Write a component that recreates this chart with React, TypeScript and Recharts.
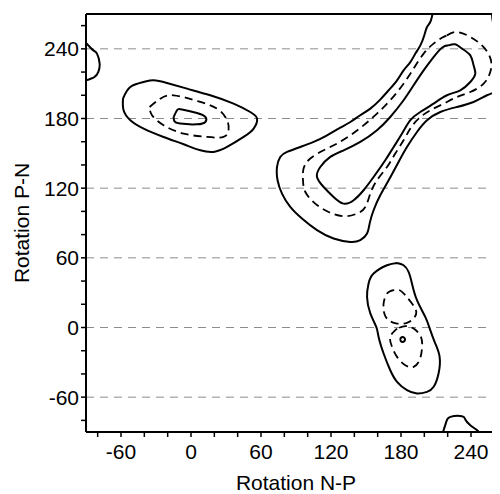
import React from 'react';
import { ScatterChart, Scatter, XAxis, YAxis, ReferenceLine, Curve } from 'recharts';

// Tick values (every 20°, labels every 60°)
const axisTicks = [-80, -60, -40, -20, 0, 20, 40, 60, 80, 100, 120, 140, 160, 180, 200, 220, 240, 260];
const gridValues = [-60, 0, 60, 120, 180, 240];

// Contour traces [rotationNP, rotationPN]
const leftOuter: [number, number][] = [
  [-58.3, 197.1], [-52.0, 207.1], [-40.6, 211.4], [-32.1, 212.9], [-20.6, 210.6], [-3.4, 205.7],
  [16.5, 200.0], [36.5, 192.8], [50.8, 185.6], [56.6, 179.9], [53.7, 171.3], [45.1, 164.1],
  [30.9, 155.5], [19.4, 151.2], [8.0, 152.6], [-6.3, 157.8], [-23.5, 164.1], [-40.6, 171.3],
  [-52.0, 178.5], [-57.8, 187.1], [-58.3, 197.1],
];
const leftMid: [number, number][] = [
  [-35.5, 189.9], [-26.3, 197.1], [-14.9, 200.0], [5.1, 195.1], [22.3, 188.5], [30.9, 178.5],
  [32.2, 169.9], [27.9, 164.1], [13.7, 164.1], [-6.3, 167.0], [-23.5, 174.2], [-33.4, 182.8],
  [-35.5, 189.9],
];
const leftInner: [number, number][] = [
  [-14.9, 181.3], [-12.0, 187.1], [-7.7, 187.7], [5.1, 184.7], [12.3, 181.3], [12.3, 177.0],
  [5.1, 175.0], [-9.2, 175.6], [-14.3, 177.8], [-14.9, 181.3],
];
const cornerTopLeft: [number, number][] = [
  [-90, 245.0], [-88.0, 243.0], [-83.7, 238.7], [-80.6, 235.9], [-78.3, 227.3], [-79.5, 220.0],
  [-82.9, 215.7], [-90, 212.9],
];
const cornerBottomRight: [number, number][] = [
  [216.0, -90], [218.8, -81.3], [222.3, -77.0], [232.3, -76.4], [235.1, -79.2], [239.4, -84.1],
  [245.1, -88.4], [246.5, -90],
];
const blobOuter: [number, number][] = [
  [176.6, 55.6], [168.0, 53.6], [156.5, 46.5], [152.2, 37.9], [150.9, 26.3], [153.7, 12.1],
  [158.8, 0.5], [160.8, -8.1], [165.1, -22.4], [170.8, -36.8], [176.6, -46.8], [185.1, -54.0],
  [193.7, -56.8], [202.3, -55.4], [208.0, -51.1], [212.2, -39.6], [213.1, -25.3], [209.4, -13.8],
  [205.1, -2.3], [200.8, 9.1], [193.7, 23.5], [189.4, 37.9], [186.5, 47.9], [182.2, 53.6], [176.6, 55.6],
];
const blobDashUpper: [number, number][] = [
  [173.7, 32.1], [168.0, 29.3], [165.1, 20.7], [165.7, 12.1], [169.4, 6.3], [176.6, 3.4],
  [185.1, 4.0], [190.8, 7.7], [193.1, 13.4], [189.4, 20.7], [183.7, 27.8], [178.8, 32.1], [173.7, 32.1],
];
const blobDashLower: [number, number][] = [
  [176.6, -0.9], [170.8, -8.1], [172.3, -16.7], [176.6, -25.3], [183.7, -32.5], [190.8, -33.9],
  [195.9, -28.1], [198.0, -18.1], [197.1, -8.1], [190.8, -0.9], [183.7, 1.1], [176.6, -0.9],
];
const blobRing: [number, number][] = [
  [179.3, -10.3], [180.0, -8.8], [181.4, -8.2], [182.8, -8.8], [183.5, -10.3], [182.8, -11.8],
  [181.4, -12.4], [180.0, -11.8], [179.3, -10.3],
];
const bandOuter: [number, number][] = [
  [207.0, 270], [205.1, 263.1], [202.3, 258.8], [200.0, 251.7], [196.6, 243.0], [192.3, 235.9],
  [188.0, 228.6], [182.2, 221.5], [176.6, 212.9], [169.4, 204.3], [162.2, 196.3], [153.7, 188.5],
  [145.1, 182.8], [136.6, 177.0], [126.5, 171.3], [116.6, 165.5], [105.1, 159.8], [93.7, 155.5],
  [82.3, 151.2], [76.5, 146.9], [73.7, 138.2], [74.2, 126.8], [78.0, 115.3], [85.1, 103.8],
  [95.1, 93.8], [108.0, 83.8], [122.2, 76.6], [136.5, 73.7], [145.1, 75.2], [150.9, 80.9],
  [153.1, 89.5], [156.5, 101.0], [162.2, 113.9], [169.4, 126.8], [177.9, 142.6], [185.1, 155.5],
  [193.7, 168.4], [202.3, 178.5], [213.7, 185.6], [228.0, 189.9], [242.2, 194.2], [253.7, 200.0],
  [265.1, 204.3], [270, 206.0],
];
const bandCornerTopRight: [number, number][] = [
  [258.0, 270], [259.4, 261.7], [263.6, 260.2], [265.1, 263.1], [270, 266.0],
];
const bandMid: [number, number][] = [
  [219.4, 251.6], [228.0, 254.5], [239.4, 250.2], [250.8, 241.5], [257.1, 230.1], [256.5, 220.0],
  [250.8, 210.0], [239.4, 202.8], [228.0, 198.5], [216.5, 192.8], [205.1, 187.1], [195.1, 179.9],
  [188.0, 171.3], [182.2, 161.2], [175.1, 149.8], [168.0, 138.2], [159.4, 126.8], [153.7, 115.3],
  [149.4, 103.8], [142.3, 98.1], [130.8, 95.8], [117.9, 99.5], [106.5, 106.7], [98.0, 116.7],
  [96.0, 126.8], [96.5, 136.9], [102.3, 145.5], [113.7, 152.6], [125.1, 158.4], [136.5, 165.5],
  [147.9, 174.1], [159.4, 184.2], [170.8, 195.7], [182.2, 210.0], [190.8, 223.0], [199.4, 235.9],
  [207.9, 244.5], [215.1, 249.6], [219.4, 251.6],
];
const bandInner: [number, number][] = [
  [220.8, 243.0], [226.5, 243.9], [232.3, 240.2], [239.4, 234.4], [242.2, 225.8], [243.7, 218.6],
  [239.4, 211.4], [230.8, 204.3], [219.4, 200.0], [207.9, 192.8], [196.5, 185.6], [188.0, 178.5],
  [180.9, 167.0], [173.7, 155.5], [166.5, 144.0], [156.5, 129.6], [147.9, 118.2], [139.4, 109.6],
  [130.8, 106.7], [122.2, 112.4], [113.7, 121.0], [108.0, 129.6], [110.8, 138.2], [119.4, 146.9],
  [130.8, 152.6], [145.1, 159.8], [159.4, 169.9], [170.8, 181.3], [182.2, 195.7], [190.8, 208.6],
  [199.4, 221.5], [207.9, 232.9], [215.1, 241.0], [220.8, 243.0],
];

const solidContours = [leftOuter, leftInner, cornerTopLeft, cornerBottomRight, blobOuter, blobRing, bandOuter, bandCornerTopRight, bandInner];
const dashedContours = [leftMid, blobDashUpper, blobDashLower, bandMid];

const toPts = (arr: [number, number][]) => arr.map(([x, y]) => ({ x, y }));
const NoDot = () => <g />;
const FONT = '"Liberation Sans", Arial, Helvetica, sans-serif';

const solidLine = (p: any) => (
  <Curve points={p.points} type="natural" stroke="#000" strokeWidth={2} fill="none" />
);
const dashedLine = (p: any) => (
  <Curve points={p.points} type="natural" stroke="#000" strokeWidth={1.8} strokeDasharray="8 5" fill="none" />
);

export default function App() {
  const tickStyle = { fontSize: 21, fill: '#000', fontFamily: FONT };
  return (
    <div style={{ width: 492, height: 486, overflow: 'hidden' }}>
      <ScatterChart width={508} height={486} margin={{ top: 6, right: 10, bottom: 0, left: 0 }}>
        <XAxis
          type="number"
          dataKey="x"
          domain={[-90, 270]}
          ticks={axisTicks}
          allowDataOverflow
          interval={0}
          tickFormatter={(v: number) => (v % 60 === 0 ? String(v) : '')}
          tick={tickStyle}
          tickSize={5}
          tickMargin={7}
          height={62}
          axisLine={{ stroke: '#000', strokeWidth: 2 }}
          tickLine={{ stroke: '#000', strokeWidth: 1.5 }}
          label={{ value: 'Rotation N-P', position: 'insideBottom', offset: 4, style: { fontSize: 21, fill: '#000', fontFamily: FONT } }}
        />
        <YAxis
          type="number"
          dataKey="y"
          domain={[-90, 270]}
          ticks={axisTicks}
          allowDataOverflow
          interval={0}
          tickFormatter={(v: number) => (v % 60 === 0 ? String(v) : '')}
          tick={tickStyle}
          tickSize={5}
          tickMargin={2}
          width={78}
          axisLine={{ stroke: '#000', strokeWidth: 2 }}
          tickLine={{ stroke: '#000', strokeWidth: 1.5 }}
          label={{ value: 'Rotation P-N', angle: -90, position: 'center', dx: -25, style: { fontSize: 21, fill: '#000', fontFamily: FONT } }}
        />
        {gridValues.map((g) => (
          <ReferenceLine key={'g' + g} y={g} stroke="#8c8c8c" strokeWidth={1} strokeDasharray="8 6" />
        ))}
        <ReferenceLine y={270} stroke="#000" strokeWidth={2} />
        <ReferenceLine x={270} stroke="#000" strokeWidth={2} />
        {solidContours.map((c, i) => (
          <Scatter
            key={'s' + i}
            data={toPts(c)}
            line={solidLine}
            shape={NoDot}
            isAnimationActive={false}
            legendType="none"
          />
        ))}
        {dashedContours.map((c, i) => (
          <Scatter
            key={'d' + i}
            data={toPts(c)}
            line={dashedLine}
            shape={NoDot}
            isAnimationActive={false}
            legendType="none"
          />
        ))}
      </ScatterChart>
    </div>
  );
}
